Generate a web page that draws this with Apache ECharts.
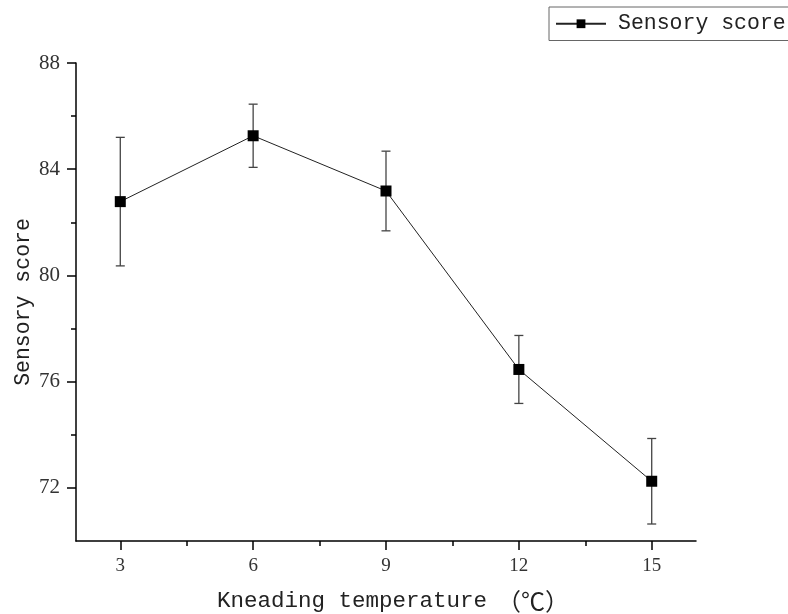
<!DOCTYPE html>
<html>
<head>
<meta charset="utf-8">
<title>Sensory score</title>
<script src="https://cdn.jsdelivr.net/npm/echarts@6/dist/echarts.min.js"></script>
<style>
  html, body { margin: 0; padding: 0; background: #fff; }
  #main { width: 788px; height: 614px; }
</style>
</head>
<body>
<div id="main"></div>
<script>
// 数据
var temps = [3, 6, 9, 12, 15];
var scores = [82.78, 85.26, 83.18, 76.46, 72.25];
var errors = [2.42, 1.19, 1.5, 1.28, 1.61];
var xMajor = [3, 6, 9, 12, 15];
var xMinor = [4.5, 7.5, 10.5, 13.5];
var yMajor = [72, 76, 80, 84, 88];
var yMinor = [74, 78, 82, 86];

var chart = echarts.init(document.getElementById('main'));

var titleFont = "'Liberation Mono', 'Noto Sans CJK SC', monospace";
var tickFont = 'Liberation Serif';

var option = {
    animation: false,
    backgroundColor: '#fff',
    grid: { left: 76, right: 92, top: 63, bottom: 73, outerBoundsMode: 'none', containLabel: false },
    legend: {
        left: 549,
        top: 7,
        padding: [6, 10, 6, 6],
        borderColor: '#666',
        borderWidth: 1,
        borderRadius: 0,
        itemWidth: 50,
        itemHeight: 11,
        data: ['Sensory score'],
        textStyle: { fontFamily: titleFont, fontSize: 21.5, color: '#222', padding: [0, 0, 0, 7] }
    },
    xAxis: [
        {
            type: 'value',
            min: 2,
            max: 16,
            position: 'bottom',
            splitLine: { show: false },
            axisLine: { lineStyle: { color: '#000', width: 1.5 } },
            axisTick: { customValues: xMajor, length: 9, lineStyle: { color: '#000', width: 1.5 } },
            axisLabel: { customValues: xMajor, margin: 16, fontFamily: tickFont, fontSize: 19, color: '#333' },
            name: '{a|Kneading temperature}{b|（℃）}',
            nameLocation: 'middle',
            nameMoveOverlap: false,
            nameGap: 48,
            nameTextStyle: {
                fontFamily: titleFont, fontSize: 22, color: '#222',
                padding: [0, 0, 0, 14],
                rich: {
                    a: { fontFamily: titleFont, fontSize: 22.5, color: '#222' },
                    b: { fontFamily: 'Noto Sans CJK SC', fontSize: 24, color: '#222', padding: [0, 0, 0, 10] }
                }
            }
        },
        {
            type: 'value',
            min: 2,
            max: 16,
            position: 'bottom',
            splitLine: { show: false },
            axisLine: { show: false },
            axisTick: { customValues: xMinor, length: 5, lineStyle: { color: '#000', width: 1.5 } },
            axisLabel: { show: false }
        }
    ],
    yAxis: [
        {
            type: 'value',
            min: 70,
            max: 88,
            position: 'left',
            splitLine: { show: false },
            axisLine: { show: true, lineStyle: { color: '#000', width: 1.5 } },
            axisTick: { show: true, customValues: yMajor, length: 9, lineStyle: { color: '#000', width: 1.5 } },
            axisLabel: { customValues: yMajor, margin: 16, fontFamily: tickFont, fontSize: 21, color: '#333' },
            name: 'Sensory score',
            nameLocation: 'middle',
            nameMoveOverlap: false,
            nameGap: 42,
            nameTextStyle: { fontFamily: titleFont, fontSize: 21.5, color: '#222' }
        },
        {
            type: 'value',
            min: 70,
            max: 88,
            position: 'left',
            splitLine: { show: false },
            axisLine: { show: false },
            axisTick: { show: true, customValues: yMinor, length: 5, lineStyle: { color: '#000', width: 1.5 } },
            axisLabel: { show: false }
        }
    ],
    series: [
        {
            // 误差棒
            type: 'custom',
            name: 'err',
            xAxisIndex: 0,
            yAxisIndex: 0,
            data: temps.map(function (t, i) { return [t, scores[i] - errors[i], scores[i] + errors[i]]; }),
            renderItem: function (params, api) {
                var lo = api.coord([api.value(0), api.value(1)]);
                var hi = api.coord([api.value(0), api.value(2)]);
                var w = 4.5;
                var style = { stroke: '#444', lineWidth: 1.3 };
                return {
                    type: 'group',
                    children: [
                        { type: 'line', shape: { x1: lo[0], y1: lo[1], x2: hi[0], y2: hi[1] }, style: style },
                        { type: 'line', shape: { x1: hi[0] - w, y1: hi[1], x2: hi[0] + w, y2: hi[1] }, style: style },
                        { type: 'line', shape: { x1: lo[0] - w, y1: lo[1], x2: lo[0] + w, y2: lo[1] }, style: style }
                    ]
                };
            },
            z: 1
        },
        {
            type: 'line',
            name: 'Sensory score',
            xAxisIndex: 0,
            yAxisIndex: 0,
            data: temps.map(function (t, i) { return [t, scores[i]]; }),
            symbol: 'rect',
            symbolSize: 11,
            itemStyle: { color: '#000' },
            lineStyle: { color: '#222', width: 1 },
            z: 3
        }
    ]
};

chart.setOption(option);
</script>
</body>
</html>
